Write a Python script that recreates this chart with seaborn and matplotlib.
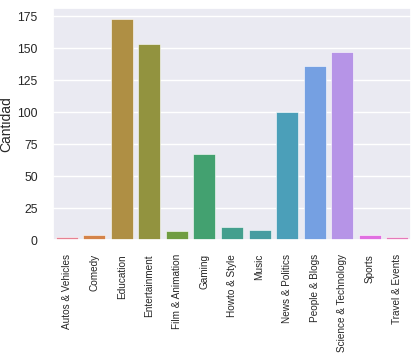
import seaborn as sns
import matplotlib.pyplot as plt
import pandas as pd

# --- Data ---
categorias = ['Autos & Vehicles', 'Comedy', 'Education', 'Entertainment',
              'Film & Animation', 'Gaming', 'Howto & Style', 'Music',
              'News & Politics', 'People & Blogs', 'Science & Technology',
              'Sports', 'Travel & Events']
cantidad = [2, 4, 173, 153, 7, 67, 10, 8, 100, 136, 147, 4, 2]

df = pd.DataFrame({'Categoria': categorias, 'Cantidad': cantidad})

# --- Plot ---
sns.set_theme(style="darkgrid")
plt.rcParams['font.family'] = ['Liberation Sans', 'DejaVu Sans']

fig = plt.figure(figsize=(4.18, 3.53), dpi=100)
ax = fig.add_axes([0.127, 0.32, 0.856, 0.658])
sns.barplot(data=df, x='Categoria', y='Cantidad', hue='Categoria',
            palette='husl', legend=False, ax=ax,
            edgecolor='white', linewidth=0.4)

ax.set_xlabel('')
ax.set_ylabel('Cantidad', fontsize=10)
ax.yaxis.set_label_coords(-0.11, 0.5)
ax.tick_params(axis='x', labelrotation=90, labelsize=7.2, pad=4)
ax.tick_params(axis='y', labelsize=8.8, pad=5)

plt.savefig("out.png", dpi=100)
plt.close()
